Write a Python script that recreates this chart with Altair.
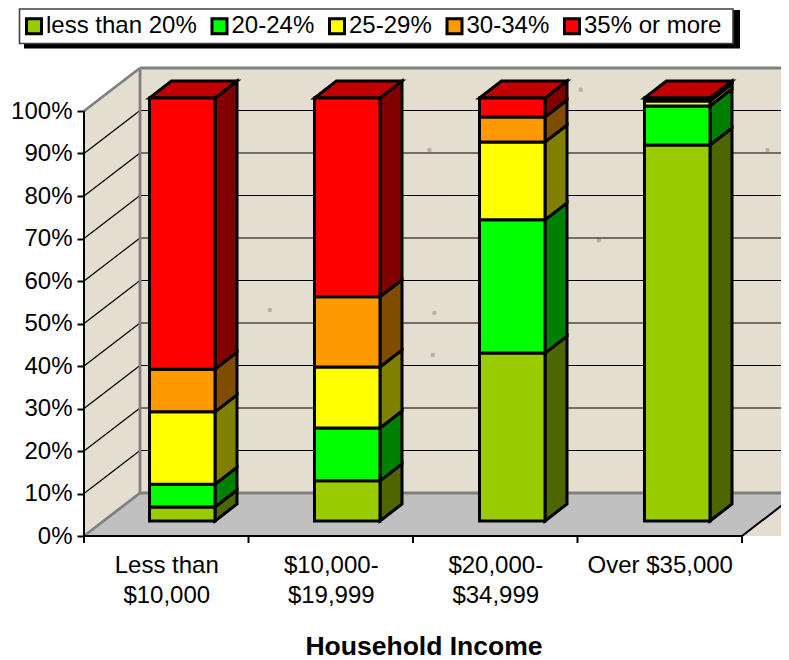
import json
import altair as alt
import pandas as pd

categories = ["Less than|$10,000", "$10,000-|$19,999", "$20,000-|$34,999", "Over $35,000"]
series = ["less than 20%", "20-24%", "25-29%", "30-34%", "35% or more"]
front_colors = ["#99CC00", "#00FF00", "#FFFF00", "#FF9900", "#FF0000"]
side_colors = ["#4D6600", "#008000", "#808000", "#804D00", "#800000"]
top_color = "#C00000"

less_than_20 = [3.3, 9.5, 39.7, 88.9]
pct_20_24 = [5.4, 12.5, 31.5, 9.2]
pct_25_29 = [17.1, 14.4, 18.4, 1.2]
pct_30_34 = [10.1, 16.6, 5.9, 0.2]
pct_35_more = [64.1, 47.0, 4.5, 0.5]
values = [less_than_20, pct_20_24, pct_25_29, pct_30_34, pct_35_more]

speck_x = [2.10, 2.13, 2.12, 4.155, 1.13, 3.13, 3.02]
speck_y = [90.8, 52.5, 42.6, 90.8, 53.2, 69.6, 105.0]

WALL = "#E4DED1"
FLOOR = "#C0C0C0"
GREY = "#808080"
FONT = "Liberation Sans"

# Projection, in axis units (categories, percent)
CAT_PX, PCT_PX = 164.5, 4.25
DX, DY = 56 / CAT_PX, 43 / PCT_PX            # depth of the box
BAR_STEP = 165 / CAT_PX                      # bar spacing
BAR_L, BAR_W = 65.5 / CAT_PX, 65.5 / CAT_PX  # bar position inside a category
BAR_DX, BAR_DY = 22 / CAT_PX, 17 / PCT_PX    # depth of a bar
BAR_H = 423 / 425                            # a bar sits further back, so it is drawn a little shorter
LIFT = 15 / PCT_PX
XMAX, YMAX = 697 / CAT_PX, 528 / PCT_PX
XEND = 4 + DX

xs = alt.Scale(domain=[0, XMAX], nice=False, zero=False)
ys = alt.Scale(domain=[0, YMAX], nice=False, zero=False)

fronts, sides, tops = [], [], []
for c in range(len(categories)):
    base = LIFT
    x0 = c * BAR_STEP + BAR_L
    x1 = x0 + BAR_W
    for s, name in enumerate(series):
        t = base + values[s][c] * BAR_H
        fronts.append(dict(x=x0, x2=x1, y=base, y2=t, series=name))
        key = f"{c}-{s}"
        sides.append(dict(id=key, x=x1, y=base, y2=t, fill=side_colors[s]))
        sides.append(dict(id=key, x=x1 + BAR_DX, y=base + BAR_DY, y2=t + BAR_DY, fill=side_colors[s]))
        base = t
    key = f"{c}"
    tops.append(dict(id=key, y=base, x=x0, x2=x1, fill=top_color))
    tops.append(dict(id=key, y=base + BAR_DY, x=x0 + BAR_DX, x2=x1 + BAR_DX, fill=top_color))

x_axis = alt.Axis(
    title="Household Income", values=[0.5, 1.5, 2.5, 3.5],
    labelExpr=f"split({json.dumps(categories)}[floor(datum.value)], '|')",
    domain=False, grid=False, ticks=False, labelFont=FONT, labelFontSize=24, labelColor="black",
    labelPadding=17, labelLineHeight=30, labelBaseline="top", labelFlush=False, labelOverlap=False,
    labelAngle=0,
    titleFont=FONT, titleFontSize=26.5, titleFontWeight="bold", titleColor="black",
    titleX=339.5, titleY=118, titleBaseline="alphabetic", titleAlign="center")
y_axis = alt.Axis(
    title=None, values=list(range(0, 101, 10)), labelExpr="datum.value + '%'", domain=False, grid=False,
    tickColor="black", tickWidth=2, tickSize=7, labelFont=FONT, labelFontSize=24, labelColor="black",
    labelPadding=5)

X = alt.X("x:Q", scale=xs, axis=x_axis)
Y = alt.Y("y:Q", scale=ys, axis=y_axis)

one = pd.DataFrame({"a": [0]})
shadow = alt.Chart(one).mark_rect(color="black").encode(
    x=alt.value(24 - 84), x2=alt.value(740 - 84), y=alt.value(10 - 8), y2=alt.value(48.5 - 8))
box = alt.Chart(one).mark_rect(fill="white", stroke="#404040", strokeWidth=1.6).encode(
    x=alt.value(19.5 - 84), x2=alt.value(733 - 84), y=alt.value(1), y2=alt.value(43.5 - 8))

wall = alt.Chart(pd.DataFrame([dict(x=DX, x2=XEND, y=0, y2=100 + DY)])).mark_rect(color=WALL).encode(
    x=X, x2="x2:Q", y=Y, y2="y2:Q")
side_wall = alt.Chart(pd.DataFrame([dict(x=0, y=0, y2=100), dict(x=DX, y=DY, y2=100 + DY)])).mark_area(
    color=WALL).encode(x=X, y=Y, y2="y2:Q")
floor = alt.Chart(pd.DataFrame([dict(y=0, x=0, x2=4), dict(y=DY, x=DX, x2=XEND)])).mark_area(
    color=FLOOR, orient="horizontal").encode(y=Y, x=X, x2="x2:Q")
specks = alt.Chart(pd.DataFrame({"x": speck_x, "y": speck_y})).mark_circle(
    color="#8A857A", size=20, opacity=0.5).encode(x=X, y=Y)

grid_rows = []
for v in range(10, 100, 10):
    grid_rows.append(dict(x=0, x2=DX, y=v, y2=v + DY))
    grid_rows.append(dict(x=DX, x2=XEND, y=v + DY, y2=v + DY))
grid = alt.Chart(pd.DataFrame(grid_rows)).mark_rule(color="black", strokeWidth=1.2).encode(
    x=X, x2="x2:Q", y=Y, y2="y2:Q")

grey_rows = [
    dict(x=0, x2=DX, y=100, y2=100 + DY),
    dict(x=DX, x2=XEND, y=100 + DY, y2=100 + DY),
    dict(x=DX, x2=DX, y=DY, y2=100 + DY),
    dict(x=DX, x2=XEND, y=DY, y2=DY),
    dict(x=0, x2=DX, y=0, y2=DY),
]
grey = alt.Chart(pd.DataFrame(grey_rows)).mark_rule(color=GREY, strokeWidth=2.8).encode(
    x=X, x2="x2:Q", y=Y, y2="y2:Q")

black_rows = [
    dict(x=0, x2=0, y=0, y2=100),
    dict(x=0, x2=4, y=0, y2=0),
    dict(x=4, x2=XEND, y=0, y2=DY),
]
for i in range(5):
    black_rows.append(dict(x=i, x2=i, y=0, y2=-7 / PCT_PX))
frame = alt.Chart(pd.DataFrame(black_rows)).mark_rule(color="black", strokeWidth=2).encode(
    x=X, x2="x2:Q", y=Y, y2="y2:Q")

side_layer = alt.Chart(pd.DataFrame(sides)).mark_area(stroke="black", strokeWidth=3, strokeJoin="miter").encode(
    x=X, y=Y, y2="y2:Q", detail="id:N", color=alt.Color("fill:N", scale=None))
top_layer = alt.Chart(pd.DataFrame(tops)).mark_area(
    orient="horizontal", stroke="black", strokeWidth=3, strokeJoin="miter").encode(
    y=Y, x=X, x2="x2:Q", detail="id:N", color=alt.Color("fill:N", scale=None))
front_layer = alt.Chart(pd.DataFrame(fronts)).mark_rect(stroke="black", strokeWidth=3).encode(
    x=X, x2="x2:Q", y=Y, y2="y2:Q",
    color=alt.Color("series:N", scale=alt.Scale(domain=series, range=front_colors), sort=series,
                    legend=alt.Legend(
                        orient="none", legendX=-67, legendY=1, direction="horizontal", columns=5,
                        title=None, padding=5,
                        symbolType="square", symbolSize=225, symbolStrokeColor="black", symbolStrokeWidth=3,
                        labelFont=FONT, labelFontSize=24, labelColor="black", labelLimit=300,
                        labelOffset=0, columnPadding=8.5, symbolOpacity=1)))

chart = alt.layer(
    shadow, box, wall, side_wall, floor, specks, grid, grey, frame, side_layer, top_layer, front_layer
).properties(
    width=697, height=528,
    padding={"left": 76, "top": 0, "right": 0, "bottom": 124},
    autosize=alt.AutoSizeParams(type="none"),
).configure_view(stroke=None)

chart.save("out.html", embed_options={"renderer": "svg", "actions": False})
